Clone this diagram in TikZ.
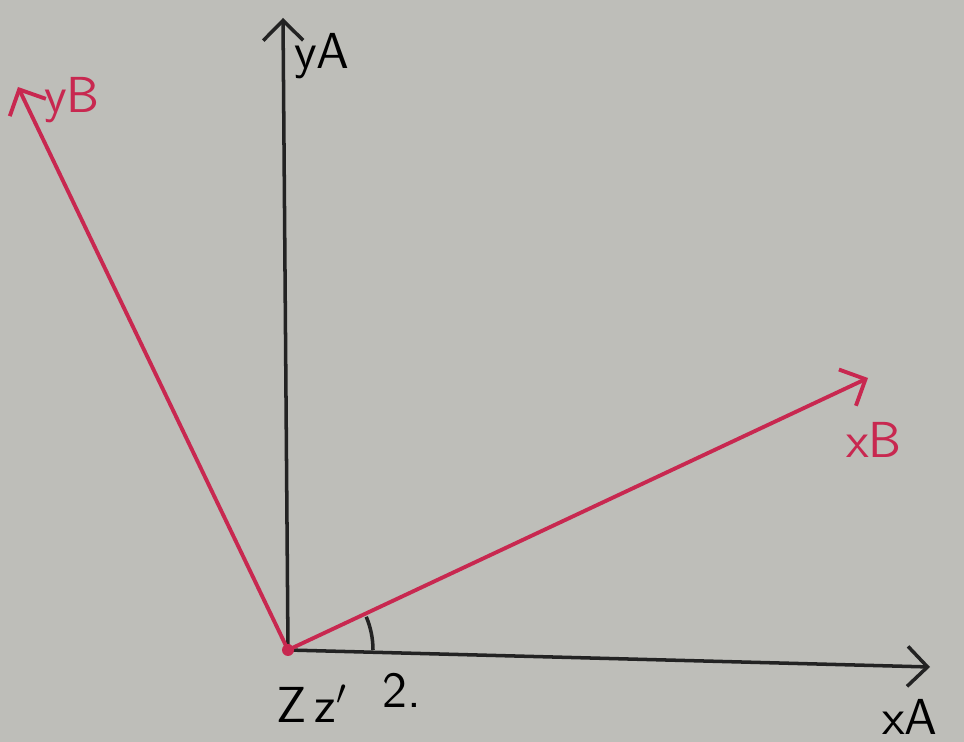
\documentclass[tikz,border=0pt]{standalone}
\usepackage{tikz}
\usetikzlibrary{arrows.meta}
\definecolor{paper}{RGB}{190,190,185}
\definecolor{pen}{RGB}{35,35,35}
\definecolor{redpen}{RGB}{200,40,80}

\begin{document}
\begin{tikzpicture}[x=1cm,y=1cm,line width=1pt,
	axis/.style={pen,-{Straight Barb[length=2mm,width=4mm]}},
	raxis/.style={redpen,line width=1.1pt,-{Straight Barb[length=2mm,width=4mm]}},
	lbl/.style={font=\sffamily\Large},
	rlbl/.style={font=\sffamily\Large,text=redpen}]
	\fill[paper] (0,0) rectangle (9.64,7.42);
	\useasboundingbox (0,0) rectangle (9.64,7.42);
	\coordinate (o) at (2.88,0.92);
	\coordinate (xa) at (9.30,0.75);
	\coordinate (ya) at (2.83,7.24);
	\coordinate (xb) at (8.68,3.64);
	\coordinate (yb) at (0.18,6.55);
	\draw[axis] (o) -- (xa);
	\draw[axis] (o) -- (ya);
	\draw[raxis] (o) -- (xb);
	\draw[raxis] (o) -- (yb);
	\fill[redpen] (o) circle (0.06);
	\draw[pen] ([shift={(0:0.85)}]o) arc (0:23:0.85);
	\node[lbl] (yalbl) at (3.22,6.86) {yA};
	\node[rlbl] (yblbl) at (0.72,6.42) {yB};
	\node[rlbl] (xblbl) at (8.74,3.02) {xB};
	\node[lbl] (xalbl) at (9.10,0.25) {xA};
	\node[lbl] (zlbl) at (3.12,0.38) {Z\,z$'$};
	\node[lbl] (anglbl) at (4.02,0.52) {2.};
\end{tikzpicture}
\end{document}
